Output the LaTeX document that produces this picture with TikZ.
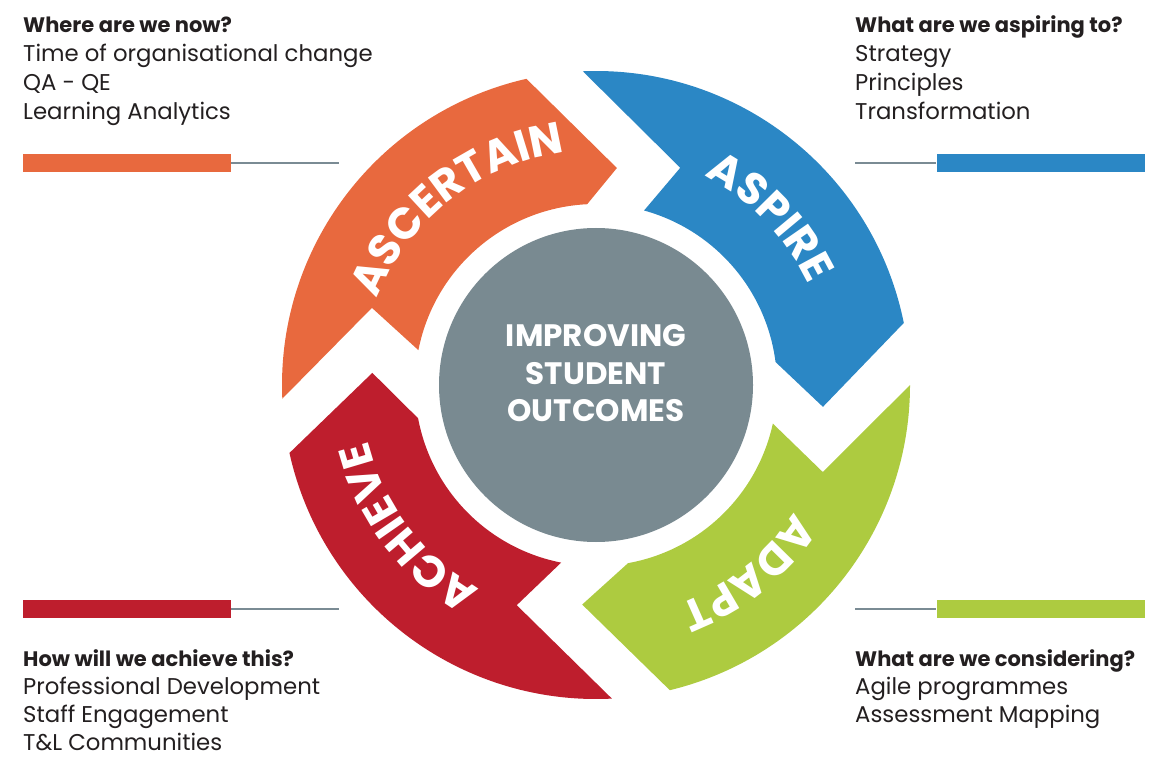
\documentclass[tikz,border=0pt]{standalone}
\usepackage{fontspec}
\setmainfont{Poppins}
\usetikzlibrary{decorations.text}

\definecolor{ascOrange}{HTML}{E8693E}
\definecolor{aspBlue}{HTML}{2B87C5}
\definecolor{adaGreen}{HTML}{ADCB40}
\definecolor{achRed}{HTML}{BE1E2D}
\definecolor{hubGrey}{HTML}{798A91}
\definecolor{leadGrey}{HTML}{7A8B94}
\definecolor{ink}{HTML}{231F20}

\newcommand{\lblfont}{\fontsize{44}{44}\selectfont\bfseries}
% ring radii
\def\Ro{314}
\def\Ri{181}

% one band of the ring: tail notch, inner arc, head, outer arc
\newcommand{\ringarrow}[9]{%
  \fill[#1] (#2:\Ro) -- (#3:#4) -- (#5:\Ri)
    arc[start angle=#5, end angle=#6, radius=\Ri pt]
    -- (#7:#8) -- (#9:\Ro)
    arc[start angle=#9, end angle=#2, radius=\Ro pt] -- cycle;}

\tikzset{
  head/.style={anchor=base west, inner sep=0, text=ink, font=\fontsize{21}{21}\selectfont\bfseries},
  item/.style={anchor=base west, inner sep=0, text=ink, font=\fontsize{22.8}{22.8}\selectfont},
  bar/.style={rectangle, minimum width=208, minimum height=18, inner sep=0},
  lead/.style={leadGrey, line width=2.5pt},
  lbl/.style={decorate, decoration={text along path, text align=center, text color=white, text={|\lblfont|#1}}}
}

\begin{document}
\begin{tikzpicture}[x=1pt, y=1pt]
  \useasboundingbox (0,0) rectangle (1161,756);

  \begin{scope}[shift={(596,371)}]
    %tail out, notch, notch r, tail in, head in, tip, tip r, head out
    \ringarrow{ascOrange}{182.5}{161}{237}{168.9}{92.8}{84.5}{218}{102.8}
    \ringarrow{aspBlue}{92.4}{68.8}{233}{74.6}{7.3}{-5.5}{228}{11.4}
    \ringarrow{adaGreen}{0}{-21}{243}{-12.3}{-79.8}{-93.6}{220}{-76.4}
    \ringarrow{achRed}{-87.1}{-109.8}{234}{-101.1}{-169.4}{-183.1}{224}{-167.5}

    \node[circle, fill=hubGrey, minimum size=314, inner sep=0] (hub) at (0,0) {};
    \node[text=white, align=center, inner sep=0, font=\fontsize{31}{37.5}\selectfont\bfseries] (hubtext) at (0,11.5) {IMPROVING\\STUDENT\\OUTCOMES};

    % words along the bands, read clockwise
    \path[lbl={ASCERTAIN}] (168:235) arc[start angle=168, end angle=88, radius=235pt];
    \path[lbl={ASPIRE}] (84:235) arc[start angle=84, end angle=4, radius=235pt];
    \path[lbl={ADAPT}] (-11:235) arc[start angle=-11, end angle=-91, radius=235pt];
    \path[lbl={ACHIEVE}] (-103:235) arc[start angle=-103, end angle=-183, radius=235pt];
  \end{scope}

  % corner notes
  \node[head] (nowHead) at (23,723) {Where are we now?};
  \foreach \txt [count=\i] in {Time of organisational change, QA - QE, Learning Analytics}
    \node[item] (now\i) at (23,723-28.8*\i) {\txt};

  \node[head] (aspHead) at (855,723) {What are we aspiring to?};
  \foreach \txt [count=\i] in {Strategy, Principles, Transformation}
    \node[item] (asp\i) at (855,723-28.8*\i) {\txt};

  \node[head] (achHead) at (23,90) {How will we achieve this?};
  \foreach \txt [count=\i] in {Professional Development, Staff Engagement, T\&L Communities}
    \node[item] (ach\i) at (23,90-28*\i) {\txt};

  \node[head] (adaHead) at (855,90) {What are we considering?};
  \foreach \txt [count=\i] in {Agile programmes, Assessment Mapping}
    \node[item] (ada\i) at (855,90-28*\i) {\txt};

  % colour bars with their grey leads
  \node[bar, fill=ascOrange] (barNow) at (127,593) {};
  \coordinate (leadNow) at (339,593);
  \draw[lead] (barNow.east) -- (leadNow);

  \node[bar, fill=aspBlue] (barAsp) at (1040.5,593) {};
  \coordinate (leadAsp) at (855,593);
  \draw[lead] (leadAsp) -- (barAsp.west);

  \node[bar, fill=achRed] (barAch) at (127,147) {};
  \coordinate (leadAch) at (339,147);
  \draw[lead] (barAch.east) -- (leadAch);

  \node[bar, fill=adaGreen] (barAda) at (1040.5,147) {};
  \coordinate (leadAda) at (855,147);
  \draw[lead] (leadAda) -- (barAda.west);
\end{tikzpicture}
\end{document}
